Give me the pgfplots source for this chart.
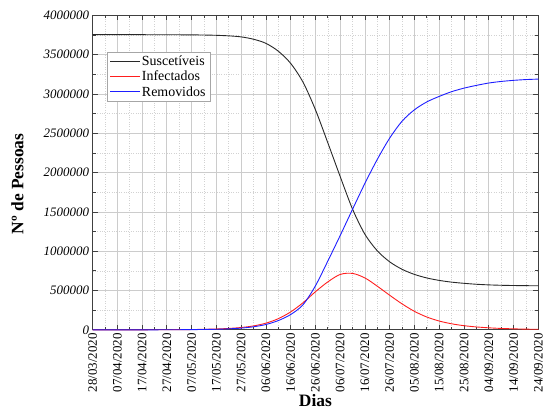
\documentclass[border=0pt]{standalone}
\usepackage{fontspec}
\setmainfont{Liberation Serif}
\usepackage{pgfplots}
\pgfplotsset{compat=1.18}
\usepackage{pgfplotstable}
\definecolor{cS}{RGB}{40,40,40}
\definecolor{cI}{RGB}{255,30,30}
\definecolor{cR}{RGB}{30,30,255}

\pgfplotstableread{
day S I R
0 3755000 100 0
10 3755000 200 100
20 3754800 500 300
30 3754300 1500 1000
40 3752500 4000 3000
45 3750500 7000 5000
50 3747000 11000 7500
55 3740000 18000 13000
60 3727000 30000 22000
65 3697000 50000 39000
70 3645000 85000 68000
75 3545000 142000 118000
80 3390000 228000 195000
85 3150000 345000 320000
90 2800000 485000 560000
95 2380000 610000 875000
100 1950000 705000 1200000
105 1535000 718000 1535000
110 1215000 660000 1865000
115 1005000 555000 2170000
120 865000 440000 2440000
125 770000 330000 2655000
130 705000 235000 2800000
135 660000 163000 2900000
140 629000 112000 2970000
145 607000 77000 3030000
150 592000 53000 3075000
155 580000 37000 3110000
160 572000 26000 3140000
165 567000 18000 3160000
170 564000 13000 3174000
175 562000 9000 3184000
180 561000 7000 3190000
}\sir

\newcommand{\legline}[1]{\node[inner sep=0pt, anchor=west] at (0pt,0pt) {\textcolor{#1}{\rule[-0.5pt]{30pt}{1pt}}};}

\begin{document}
\begin{tikzpicture}
\begin{axis}[
  scale only axis, width=448pt, height=316pt,
  xmin=0, xmax=180, ymin=0, ymax=4000000,
  scaled y ticks=false, clip=false,
  xtick={0,10,...,180},
  xticklabels={28/03/2020,07/04/2020,17/04/2020,27/04/2020,07/05/2020,17/05/2020,27/05/2020,06/06/2020,16/06/2020,26/06/2020,06/07/2020,16/07/2020,26/07/2020,05/08/2020,15/08/2020,25/08/2020,04/09/2020,14/09/2020,24/09/2020},
  ytick={0,500000,1000000,1500000,2000000,2500000,3000000,3500000,4000000},
  yticklabels={0,500000,1000000,1500000,2000000,2500000,3000000,3500000,4000000},
  minor x tick num=1, minor y tick num=1,
  x tick label style={rotate=90, anchor=east, font=\fontsize{13}{13}\selectfont},
  y tick label style={font=\fontsize{13}{13}\selectfont\itshape},
  tick align=inside, tick pos=both,
  major tick length=5pt, minor tick length=3pt,
  tick style={black!75, line width=0.8pt},
  grid=both,
  major grid style={gray!40, line width=0.8pt},
  minor grid style={gray!35, dotted, line width=0.6pt},
  axis line style={black!75, line width=1pt},
  xlabel={Dias}, ylabel={Nº de Pessoas},
  label style={font=\fontsize{17.5}{20}\selectfont\bfseries},
  xlabel style={at={(axis description cs:0.5,-0.226)}, anchor=center},
  ylabel style={at={(axis description cs:-0.1685,0.464)}, anchor=center},
  legend style={at={(axis description cs:0.0335,0.8845)}, anchor=north west,
    draw=gray!70, font=\fontsize{14}{16.5}\selectfont, inner xsep=2.5pt, inner ysep=2pt},
  legend cell align=left,
  /pgf/number format/assume math mode=true,
]
\addplot[cS, line width=0.9pt, smooth, forget plot] table[x=day, y=S] {\sir};
\addplot[cI, line width=0.9pt, smooth, forget plot] table[x=day, y=I] {\sir};
\addplot[cR, line width=0.9pt, smooth, forget plot] table[x=day, y=R] {\sir};
\addlegendimage{legend image code/.code={\legline{cS}}}
\addlegendentry{Suscetíveis}
\addlegendimage{legend image code/.code={\legline{cI}}}
\addlegendentry{Infectados}
\addlegendimage{legend image code/.code={\legline{cR}}}
\addlegendentry{Removidos}
\end{axis}
\path ([xshift=-93pt,yshift=15.5pt]current axis.north west) rectangle ([xshift=5pt,yshift=-78.5pt]current axis.south east);
\end{tikzpicture}
\end{document}
